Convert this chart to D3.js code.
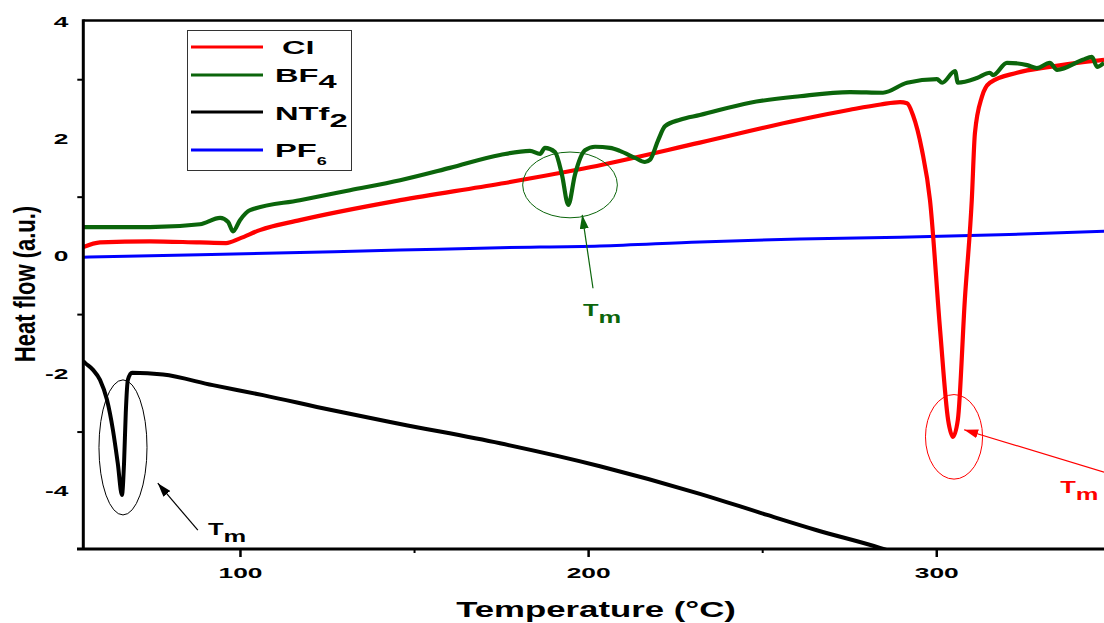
<!DOCTYPE html>
<html><head><meta charset="utf-8">
<script src="https://cdn.jsdelivr.net/npm/d3@7"></script>
<style>body{margin:0;background:#fff}svg{display:block}text{font-family:"Liberation Sans",Arial,sans-serif;font-weight:bold}</style>
</head><body><svg id="c" width="1104" height="623"></svg>
<script>
// ---- data (temperature °C, heat flow a.u.) ----
const clT  = [55,59.8,74.1,88.5,96,100,105.7,117.2,146,174.7,200.5,232.1,260.8,275.2,284,289.6,291.6,293.3,295.9,298.2,301.1,303.4,304.8,306.2,308.2,310.2,311.1,313.1,315.4,323.2,332.6,342.1,348.2];
const clV  = [0.14,0.22,0.24,0.22,0.21,0.29,0.43,0.60,0.94,1.22,1.50,1.92,2.31,2.48,2.57,2.61,2.59,2.39,1.79,0.94,-1.27,-2.80,-3.09,-2.80,-0.76,0.94,2.08,2.70,2.94,3.11,3.21,3.29,3.33];
const bf4T = [55,74.1,88.5,94.3,96.6,98,100,102.9,117.2,131.6,146,160.3,174.7,183.3,186.2,187.6,190.5,192.5,194.3,196.2,199.1,202,206.3,209.1,213.5,216.3,217.8,220.1,222.1,226.4,232.1,246.5,260.8,275.2,284.7,291.6,300.2,301.7,305.4,306.2,311.7,315.4,316.3,320.3,326.1,328.9,332.6,334.7,342.1,344.7,346.2,348.2];
const bf4V = [0.48,0.48,0.53,0.64,0.57,0.41,0.60,0.77,0.94,1.11,1.28,1.49,1.71,1.78,1.73,1.83,1.76,1.37,0.86,1.37,1.79,1.85,1.83,1.78,1.66,1.59,1.63,1.96,2.20,2.31,2.39,2.60,2.71,2.78,2.77,2.94,3.00,2.94,3.14,2.94,3.02,3.11,3.07,3.28,3.24,3.19,3.28,3.16,3.33,3.38,3.21,3.28];
const ntf2T = [55,55.5,57.8,59.8,61.8,63.5,64.9,66.1,66.7,67.2,67.8,69.0,77.9,92.2,106.6,125.9,146,174.7,203.4,232.1,251.4,265.7,283.8,290];
const ntf2V = [-1.80,-1.83,-1.95,-2.12,-2.46,-2.97,-3.54,-4.08,-3.54,-2.68,-2.12,-2.00,-2.03,-2.21,-2.38,-2.63,-2.87,-3.20,-3.59,-4.06,-4.42,-4.68,-4.98,-5.10];
const pf6T = [55,88.5,146,174.7,203.4,232.1,260.8,289.6,318.3,348.2];
const pf6V = [-0.03,0.01,0.09,0.13,0.16,0.23,0.28,0.31,0.35,0.41];

const seriesNames  = ["Cl","BF4","NTf2","PF6"];
const seriesColors = ["#ff0000","#0b650b","#000000","#0000ff"];
const xMajorTicks = [100,200,300];
const xMinorTicks = [150,250];
const yLabelTicks = [-4,-2,0,2,4];
const yMinorTicks = [-3,-1,1,3];
// melting-point annotations: ellipse centre (T, v), radii (dT, dv), arrow from/to, label position
const annT  = [66.4, 194.8, 305.1];
const annV  = [-3.27, 1.20, -3.09];
const annRT = [6.9, 13.6, 8.2];
const annRV = [1.15, 0.56, 0.72];
const arrFromT = [87.9, 201.4, 348.2], arrFromV = [-4.68, -0.56, -3.69];
const arrToT   = [76.4, 198.3, 308.0], arrToV   = [-3.88, 0.69, -2.97];
const lblT = [90.8, 198.5, 335.6], lblV = [-4.76, -1.04, -4.04];
const annColors = ["#000000","#0b650b","#ff0000"];

// ---- layout ----
const svg = d3.select("#c");
const L = 83.3, T0 = 20.5, B = 549;
const x = d3.scaleLinear().domain([55, 350]).range([L, L + 295*3.4815]);
const y = d3.scaleLinear().domain([-5, 4]).range([B, T0]);

svg.append("defs").append("clipPath").attr("id","clip")
  .append("rect").attr("x",L).attr("y",T0).attr("width",1104-L).attr("height",B-T0);

// stretched text helper
function stext(g, px, py, sx, size, parts, anchor, color){
  const t = g.append("text").attr("transform",`translate(${px},${py}) scale(${sx},1)`)
    .attr("font-size",size).attr("fill",color||"#000").attr("text-anchor",anchor||"start");
  parts.forEach(p=>{ const s=t.append("tspan").text(p.t); if(p.dy) s.attr("dy",p.dy); if(p.fs) s.attr("font-size",p.fs); });
  return t;
}

// ---- curves ----
const line = d3.line().x(d=>x(d[0])).y(d=>y(d[1])).curve(d3.curveMonotoneX);
const series = [
  {T:pf6T, V:pf6V, c:seriesColors[3], w:3},
  {T:ntf2T, V:ntf2V, c:seriesColors[2], w:4},
  {T:clT, V:clV, c:seriesColors[0], w:4.2},
  {T:bf4T, V:bf4V, c:seriesColors[1], w:4.2}
];
const gp = svg.append("g").attr("clip-path","url(#clip)");
series.forEach(s=>{
  gp.append("path").datum(s.T.map((t,i)=>[t,s.V[i]])).attr("d",line)
    .attr("fill","none").attr("stroke",s.c).attr("stroke-width",s.w).attr("stroke-linejoin","round");
});

// ---- axes ----
const yLab = svg.append("g").attr("transform",`translate(${L},0)`)
  .call(d3.axisLeft(y).tickValues(yLabelTicks).tickSize(0).tickFormat(d=>String(d)));
yLab.select(".domain").remove();
yLab.selectAll("text").attr("font-size",15.5).attr("x",-15/1.7).attr("dy","0.36em")
  .attr("transform","scale(1.7,1)").attr("font-family",null);
const yMin = svg.append("g").attr("transform",`translate(${L},0)`)
  .call(d3.axisLeft(y).tickValues(yMinorTicks).tickSize(6).tickFormat(""));
yMin.select(".domain").remove();
yMin.selectAll("line").attr("stroke","#000").attr("stroke-width",2);

const xMaj = svg.append("g").attr("transform",`translate(0,${B})`)
  .call(d3.axisBottom(x).tickValues(xMajorTicks).tickSize(8).tickFormat(d=>String(d)));
xMaj.select(".domain").remove();
xMaj.selectAll("line").attr("stroke","#000").attr("stroke-width",2.5);
xMaj.selectAll("text").attr("font-size",15.5).attr("y",29).attr("dy",0)
  .attr("transform","scale(1.7,1)").attr("font-family",null);
const xMin = svg.append("g").attr("transform",`translate(0,${B})`)
  .call(d3.axisBottom(x).tickValues(xMinorTicks).tickSize(4).tickFormat(""));
xMin.select(".domain").remove();
xMin.selectAll("line").attr("stroke","#000").attr("stroke-width",2);

// frame lines
svg.append("line").attr("x1",L).attr("x2",1104).attr("y1",T0).attr("y2",T0).attr("stroke","#000").attr("stroke-width",2.5);
svg.append("line").attr("x1",77).attr("x2",1104).attr("y1",B).attr("y2",B).attr("stroke","#000").attr("stroke-width",2.8);
svg.append("line").attr("x1",L).attr("x2",L).attr("y1",T0-1.2).attr("y2",B).attr("stroke","#000").attr("stroke-width",3);

// axis titles
stext(svg, 596, 617, 1.58, 22, [{t:"Temperature (°C)"}], "middle");
svg.append("text").attr("transform",`translate(35,284) scale(1.33,1) rotate(-90)`)
  .attr("font-size",22).attr("text-anchor","middle").text("Heat flow (a.u.)");

// ---- legend ----
const lg = svg.append("g");
lg.append("rect").attr("x",187.5).attr("y",30.5).attr("width",164).attr("height",140)
  .attr("fill","#fff").attr("stroke","#333").attr("stroke-width",1);
const legY = [47,75,112,150];
legY.forEach((ly,i)=>{
  lg.append("line").attr("x1",191).attr("x2",263).attr("y1",ly).attr("y2",ly)
    .attr("stroke",seriesColors[i]).attr("stroke-width",3);
});
stext(lg, 282, 54, 1.72, 19, [{t:"Cl"}]);
stext(lg, 275, 82, 1.72, 19, [{t:"BF"},{t:"4",dy:6}]);
stext(lg, 275, 120, 1.72, 19, [{t:"NTf"},{t:"2",dy:7}]);
stext(lg, 275, 157, 1.72, 19, [{t:"PF"},{t:"6",dy:8,fs:10.5}]);

// ---- annotations ----
const defs = svg.select("defs");
annColors.forEach((c,i)=>{
  defs.append("marker").attr("id","ah"+i).attr("viewBox","0 0 14 9").attr("refX",14).attr("refY",4.5)
    .attr("markerWidth",14).attr("markerHeight",9).attr("markerUnits","userSpaceOnUse").attr("orient","auto")
    .append("path").attr("d","M0,0 L14,4.5 L0,9 Z").attr("fill",c);
});
const ga = svg.append("g");
annT.forEach((t,i)=>{
  ga.append("ellipse").attr("cx",x(t)).attr("cy",y(annV[i]))
    .attr("rx",x(t+annRT[i])-x(t)).attr("ry",y(annV[i]-annRV[i])-y(annV[i]))
    .attr("fill","none").attr("stroke",annColors[i]).attr("stroke-width",1);
  ga.append("line").attr("x1",x(arrFromT[i])).attr("y1",y(arrFromV[i]))
    .attr("x2",x(arrToT[i])).attr("y2",y(arrToV[i]))
    .attr("stroke",annColors[i]).attr("stroke-width",1.2).attr("marker-end",`url(#ah${i})`);
  stext(ga, x(lblT[i]), y(lblV[i]), 1.5, 17, [{t:"T"},{t:"m",dy:7}], "start", annColors[i]);
});
</script></body></html>
